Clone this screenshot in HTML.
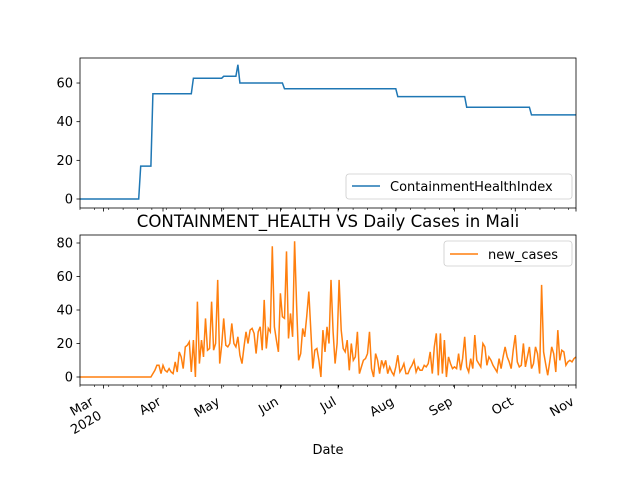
<!DOCTYPE html>
<html><head><meta charset="utf-8"><style>
body{margin:0;background:#fff}
svg text{font-family:"DejaVu Sans","Liberation Sans",sans-serif;fill:#000}
</style></head><body>
<svg id="chart" width="640" height="480" xmlns="http://www.w3.org/2000/svg"></svg>
<script>
const monthLabels=["Mar","Apr","May","Jun","Jul","Aug","Sep","Oct","Nov"];
const monthDays=[11.6,41,70,99,127.5,156,185,215,245];
const chiChangeDays=[0,29,30,35,36,55,56,70,71,77,78,79,100,101,156,157,190,191,222,223,245];
const chiValues=[0,0,17,17,54.5,54.5,62.5,62.5,63.5,63.5,69.5,60,60,57,57,53,53,47.5,47.5,43.5,43.5];
const newCases=[0,0,0,0,0,0,0,0,0,0,0,0,0,0,0,0,0,0,0,0,0,0,0,0,0,0,0,0,0,0,0,0,0,0,0,0,
2,4,7,7,2,7,4,3,5,3,2,9,3,15,12,
5,18,19,21,3,22,0,45,8,22,12,35,16,17,45,
16,20,58,8,19,35,19,18,20,32,20,18,24,13,8,
18,27,20,28,29,26,14,27,30,16,46,17,29,27,78,30,22,15,50,36,
35,75,23,38,24,81,43,10,14,29,24,36,51,28,5,
16,17,10,0,28,15,30,20,58,27,8,20,58,28,17,
15,22,4,20,10,12,27,2,6,10,11,14,27,5,0,14,10,2,10,6,
10,2,6,3,1,6,13,3,5,8,2,2,5,7,10,3,6,4,4,7,
6,8,15,2,18,26,1,26,2,22,0,12,8,5,6,5,14,4,11,24,
6,3,11,5,25,10,8,6,20,18,7,12,10,7,5,3,11,5,12,18,
12,9,5,16,25,9,6,7,20,6,12,18,5,8,18,14,2,55,15,8,
1,9,18,14,3,28,10,16,15,7,9,10,9,11,12];
const topTicks=[0,20,40,60];
const botTicks=[0,20,40,60,80];

const svg=document.getElementById('chart');
const NS="http://www.w3.org/2000/svg";
const L=80,R=576,TOTAL=245;
const x=d=>L+d*(R-L)/TOTAL;
const yTop=v=>199-v*1.933;
const yBot=v=>377-v*1.675;
function mk(tag,attrs,parent){const e=document.createElementNS(NS,tag);for(const k in attrs)e.setAttribute(k,attrs[k]);(parent||svg).appendChild(e);return e;}

function axes(top,bottom,ticks,yf,name,showLabels){
  const g=mk('g',{});
  
  
  ticks.forEach(t=>{
    const yy=yf(t);
    mk('line',{x1:L-3.5,x2:L,y1:yy,y2:yy,stroke:'#000','stroke-width':0.8},g);
    const tx=mk('text',{x:L-7,y:yy+4.5,'font-size':13,'text-anchor':'end'},g);
    tx.textContent=t;
    
    
  });
  for(let d=0;d<=TOTAL;d+=7.1){
    mk('line',{x1:x(d),x2:x(d),y1:bottom,y2:bottom+2,stroke:'#000','stroke-width':0.6},g);
  }
  monthDays.forEach((d,i)=>{
    mk('line',{x1:x(d),x2:x(d),y1:bottom,y2:bottom+3.5,stroke:'#000','stroke-width':0.8},g);
    if(showLabels){
      const off=i===0?8:0;
      const tx=mk('text',{'font-size':13,'text-anchor':'end',transform:`translate(${x(d)-1-off},${bottom+19}) rotate(-30)`},g);
      
      
      tx.textContent=monthLabels[i];
      if(i===0){
        const t2=mk('text',{'font-size':13,'text-anchor':'end',transform:`translate(${x(d)-1},${bottom+33}) rotate(-30)`},g);
        t2.textContent="2020";
      }
    }
  });
  return g;
}

let p='';
chiChangeDays.forEach((d,i)=>{p+=(i?'L':'M')+x(d).toFixed(1)+','+yTop(chiValues[i]).toFixed(1);});
const l1=mk('path',{d:p,fill:'none',stroke:'#1f77b4','stroke-width':1.5});


const f1=mk('rect',{x:L,y:58,width:R-L,height:150,fill:'none',stroke:'#000','stroke-width':0.8});


axes(58,208,topTicks,yTop,'top-axes',false);

let p2='';
newCases.forEach((v,i)=>{p2+=(i?'L':'M')+x(i).toFixed(1)+','+yBot(v).toFixed(1);});
const l2=mk('path',{d:p2,fill:'none',stroke:'#ff7f0e','stroke-width':1.5});


const f2=mk('rect',{x:L,y:235,width:R-L,height:150,fill:'none',stroke:'#000','stroke-width':0.8});


axes(235,385,botTicks,yBot,'bottom-axes',true);

const lg1=mk('g',{});


mk('rect',{x:346,y:174,width:226,height:25,rx:3,fill:'#fff',stroke:'#ccc','stroke-width':0.8},lg1);
mk('line',{x1:352,x2:380,y1:186,y2:186,stroke:'#1f77b4','stroke-width':1.5},lg1);
mk('text',{x:390,y:191,'font-size':13},lg1).textContent='ContainmentHealthIndex';

const lg2=mk('g',{});


mk('rect',{x:444,y:241,width:128,height:25,rx:3,fill:'#fff',stroke:'#ccc','stroke-width':0.8},lg2);
mk('line',{x1:450,x2:478,y1:254,y2:254,stroke:'#ff7f0e','stroke-width':1.5},lg2);
mk('text',{x:488,y:259,'font-size':13},lg2).textContent='new_cases';

const title=mk('text',{x:328,y:227,'font-size':16.6,'text-anchor':'middle'});
title.textContent='CONTAINMENT_HEALTH VS Daily Cases in Mali';


const xl=mk('text',{x:328,y:454,'font-size':13,'text-anchor':'middle'});
xl.textContent='Date';


</script>
</body></html>
